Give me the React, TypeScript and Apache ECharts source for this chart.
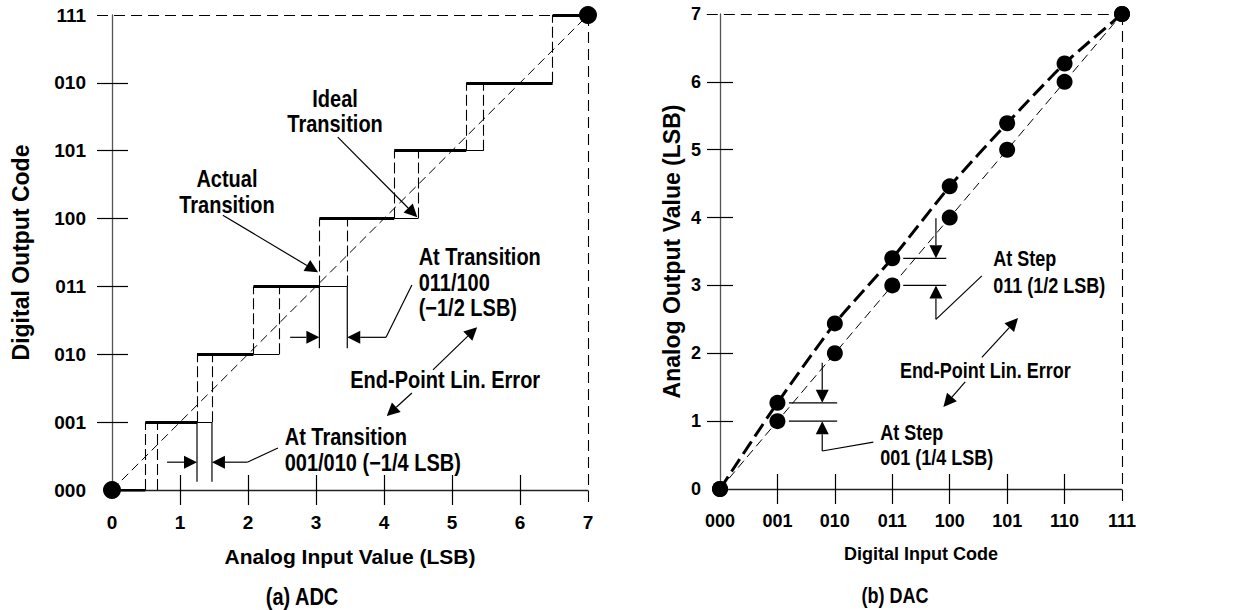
import React, { useEffect, useRef } from 'react';
import * as echarts from 'echarts';

// ---------------- data ----------------
const adcInputTicks = [0, 1, 2, 3, 4, 5, 6, 7];
const adcCodeLabels = ['000', '001', '010', '011', '100', '101', '010', '111'];
const adcActualTransitions = [0.49, 1.25, 2.08, 3.05, 4.15, 5.21, 6.48];
const adcIdealTransitions = [0.66, 1.47, 2.46, 3.46, 4.5, 5.46, 6.48];
const adcEndPoints = [[0, 0], [7, 7]];

const dacCodeLabels = ['000', '001', '010', '011', '100', '101', '110', '111'];
const dacIdealOutput = [0, 1, 2, 3, 4, 5, 6, 7];
const dacActualOutput = [0, 1.27, 2.44, 3.4, 4.46, 5.39, 6.27, 7];

// ---------------- annotations (data coordinates) ----------------
type Pt = [number, number];
const adcArrows: [Pt, Pt][] = [
  [[0.81, 0.41], [adcActualTransitions[1], 0.41]],
  [[1.99, 0.41], [adcIdealTransitions[1], 0.41]],
  [[2.62, 2.25], [adcActualTransitions[3], 2.25]],
  [[4.03, 2.25], [adcIdealTransitions[3], 2.25]],
  [[3.32, 5.2], [4.49, 4.02]],
  [[1.63, 4.05], [3.03, 3.21]],
  [[4.72, 1.77], [5.37, 2.4]],
  [[4.41, 1.43], [4.04, 1.09]],
];
const adcLeaders: [Pt, Pt][] = [
  [[1.99, 0.41], [2.44, 0.62]],
  [[4.03, 2.25], [4.41, 3.02]],
  [[adcActualTransitions[1], 1], [adcActualTransitions[1], 0.12]],
  [[adcIdealTransitions[1], 1], [adcIdealTransitions[1], 0.12]],
  [[adcActualTransitions[3], 3], [adcActualTransitions[3], 2.09]],
  [[adcIdealTransitions[3], 3], [adcIdealTransitions[3], 2.09]],
];
const adcTexts: { at: Pt; text: string; align: string }[] = [
  { at: [3.28, 5.77], text: 'Ideal', align: 'center' },
  { at: [3.28, 5.39], text: 'Transition', align: 'center' },
  { at: [1.69, 4.58], text: 'Actual', align: 'center' },
  { at: [1.69, 4.2], text: 'Transition', align: 'center' },
  { at: [4.51, 3.43], text: 'At Transition', align: 'left' },
  { at: [4.51, 3.05], text: '011/100', align: 'left' },
  { at: [4.51, 2.68], text: '(−1/2 LSB)', align: 'left' },
  { at: [4.9, 1.62], text: 'End-Point Lin. Error', align: 'center' },
  { at: [2.54, 0.78], text: 'At Transition', align: 'left' },
  { at: [2.54, 0.4], text: '001/010 (−1/4 LSB)', align: 'left' },
];

const dacArrows: [Pt, Pt][] = [
  [[3.76, 3.99], [3.76, dacActualOutput[3]]],
  [[3.76, 2.5], [3.76, dacIdealOutput[3]]],
  [[1.78, 1.86], [1.78, dacActualOutput[1]]],
  [[1.78, 0.56], [1.78, dacIdealOutput[1]]],
  [[4.56, 1.94], [5.19, 2.52]],
  [[4.27, 1.58], [3.89, 1.21]],
];
const dacLeaders: [Pt, Pt][] = [
  [[3.19, dacActualOutput[3]], [3.94, dacActualOutput[3]]],
  [[3.19, dacIdealOutput[3]], [3.94, dacIdealOutput[3]]],
  [[3.76, 2.5], [4.56, 3.14]],
  [[1.2, dacActualOutput[1]], [2.04, dacActualOutput[1]]],
  [[1.2, dacIdealOutput[1]], [2.04, dacIdealOutput[1]]],
  [[1.78, 0.56], [2.67, 0.69]],
];
const dacTexts: { at: Pt; text: string; align: string }[] = [
  { at: [4.76, 3.4], text: 'At Step', align: 'left' },
  { at: [4.76, 3.0], text: '011 (1/2 LSB)', align: 'left' },
  { at: [4.62, 1.75], text: 'End-Point Lin. Error', align: 'center' },
  { at: [2.79, 0.84], text: 'At Step', align: 'left' },
  { at: [2.79, 0.46], text: '001 (1/4 LSB)', align: 'left' },
];

const FONT = '"Liberation Sans", Arial, Helvetica, sans-serif';

function buildOption() {
  // ADC staircase segments
  const bold: any[] = [];
  for (let k = 0; k <= 7; k++) {
    const x1 = k === 0 ? 0 : adcActualTransitions[k - 1];
    const x2 = k === 7 ? 7 : adcActualTransitions[k];
    bold.push({ coords: [[x1, k], [x2, k]] });
  }
  const thin: any[] = [];
  for (let k = 2; k <= 7; k++) {
    thin.push({ coords: [[adcActualTransitions[k - 1], k - 1], [adcIdealTransitions[k - 1], k - 1]] });
  }
  const risers: any[] = [];
  for (let k = 1; k <= 7; k++) {
    risers.push({ coords: [[adcActualTransitions[k - 1], k - 1], [adcActualTransitions[k - 1], k]] });
    if (adcIdealTransitions[k - 1] !== adcActualTransitions[k - 1]) {
      risers.push({ coords: [[adcIdealTransitions[k - 1], k - 1], [adcIdealTransitions[k - 1], k]] });
    }
  }
  const frameL = [
    { coords: [[-0.22, 7], [7, 7]] },
    { coords: [[7, 7], [7, -0.22]] },
  ];
  const frameR = [
    { coords: [[-0.23, 7], [7, 7]] },
    { coords: [[7, 7], [7, -0.22]] },
  ];

  const tickVals = [1, 2, 3, 4, 5, 6];
  const labelStyle = (size: number, margin: number, fmt: any) => ({
    show: true, margin, fontSize: size, fontWeight: 'bold', color: '#000', fontFamily: FONT, formatter: fmt,
  });
  const nameStyle = (size: number) => ({ fontSize: size, fontWeight: 'bold', color: '#000', fontFamily: FONT });

  const mainX = (grid: number, name: string, size: number, nsize: number, fmt: any, gap: number, margin: number) => ({
    gridIndex: grid, type: 'value', min: 0, max: 7, interval: 1, position: 'bottom',
    axisLine: { show: true, onZero: false, lineStyle: { color: '#222', width: 1.3 } },
    axisTick: { show: true, length: 15, customValues: tickVals, lineStyle: { color: '#000', width: 1.2 } },
    axisLabel: labelStyle(size, margin, fmt),
    splitLine: { show: false },
    name, nameLocation: 'middle', nameGap: gap, nameTextStyle: nameStyle(nsize),
  });
  const innerX = (grid: number) => ({
    gridIndex: grid, type: 'value', min: 0, max: 7, interval: 1, position: 'bottom',
    axisLine: { show: false }, axisLabel: { show: false }, splitLine: { show: false },
    axisTick: { show: true, inside: true, length: 15, customValues: tickVals, lineStyle: { color: '#000', width: 1.2 } },
  });
  const mainY = (grid: number, name: string, size: number, nsize: number, fmt: any, gap: number, margin: number, tl: number) => ({
    gridIndex: grid, type: 'value', min: 0, max: 7, interval: 1, position: 'left',
    axisLine: { show: true, onZero: false, lineStyle: { color: '#555', width: 1.3 } },
    axisTick: { show: true, length: tl, customValues: tickVals, lineStyle: { color: '#000', width: 1.2 } },
    axisLabel: labelStyle(size, margin, fmt),
    splitLine: { show: false },
    name, nameLocation: 'middle', nameGap: gap, nameRotate: 90, nameTextStyle: nameStyle(nsize),
  });
  const innerY = (grid: number, tl: number) => ({
    gridIndex: grid, type: 'value', min: 0, max: 7, interval: 1, position: 'left',
    axisLine: { show: false }, axisLabel: { show: false }, splitLine: { show: false },
    axisTick: { show: true, inside: true, length: tl, customValues: tickVals, lineStyle: { color: '#000', width: 1.2 } },
  });

  const segSeries = (xi: number, data: any[], width: number, type: any, clip = true) => ({
    type: 'lines', coordinateSystem: 'cartesian2d', xAxisIndex: xi, yAxisIndex: xi,
    polyline: false, clip, silent: true, z: 4,
    lineStyle: { color: '#000', width, type, opacity: 1 },
    data,
  });

  return {
    animation: false,
    backgroundColor: '#fff',
    grid: [
      { left: 112, top: 15, width: 476, height: 475 },
      { left: 720, top: 14, width: 402, height: 475 },
    ],
    xAxis: [
      mainX(0, 'Analog Input Value (LSB)', 19, 21, (v: number) => String(adcInputTicks[v]), 56, 23),
      innerX(0),
      mainX(1, 'Digital Input Code', 18, 18, (v: number) => dacCodeLabels[v], 56, 23),
      innerX(1),
    ],
    yAxis: [
      mainY(0, 'Digital Output Code', 19, 23, (v: number) => adcCodeLabels[v], 80, 26, 15),
      innerY(0, 16),
      mainY(1, 'Analog Output Value (LSB)', 18, 23, (v: number) => String(v), 37, 19, 13),
      innerY(1, 13),
    ],
    series: [
      // ADC
      {
        type: 'line', xAxisIndex: 0, yAxisIndex: 0, data: adcEndPoints, symbol: 'none', z: 3,
        lineStyle: { color: '#000', width: 1, type: [9, 5] },
      },
      segSeries(0, risers, 1.1, [11, 4]),
      segSeries(0, thin, 1.1, 'solid'),
      segSeries(0, bold, 3.2, 'solid'),
      segSeries(0, frameL, 1.1, [11, 6], false),
      {
        type: 'scatter', xAxisIndex: 0, yAxisIndex: 0, data: adcEndPoints, symbolSize: 18, z: 6,
        itemStyle: { color: '#000', opacity: 1 },
      },
      // DAC
      segSeries(2, frameR, 1.1, [11, 6], false),
      {
        type: 'line', xAxisIndex: 2, yAxisIndex: 2, data: dacIdealOutput.map((v, i) => [i, v]),
        symbol: 'none', z: 3, lineStyle: { color: '#000', width: 1, type: [9, 5] },
      },
      {
        type: 'line', xAxisIndex: 2, yAxisIndex: 2, data: dacActualOutput.map((v, i) => [i, v]),
        symbol: 'none', smooth: 0.2, z: 3, lineStyle: { color: '#000', width: 3, type: [15, 6] },
      },
      {
        type: 'scatter', xAxisIndex: 2, yAxisIndex: 2, symbolSize: 16, z: 6, itemStyle: { color: '#000', opacity: 1 },
        data: [...dacIdealOutput.map((v, i) => [i, v]), ...dacActualOutput.map((v, i) => [i, v])],
      },
    ],
  };
}

function buildGraphics(chart: any) {
  const P = (side: number, p: Pt) => chart.convertToPixel({ xAxisIndex: side * 2, yAxisIndex: side * 2 }, p);
  const els: any[] = [];
  const seg = (a: number[], b: number[], w = 1.2) =>
    els.push({ type: 'line', silent: true, z: 20, shape: { x1: a[0], y1: a[1], x2: b[0], y2: b[1] }, style: { stroke: '#000', lineWidth: w } });
  const arrow = (side: number, tail: Pt, tip: Pt) => {
    const t = P(side, tail), p = P(side, tip);
    const dx = p[0] - t[0], dy = p[1] - t[1];
    const len = Math.hypot(dx, dy) || 1;
    const ux = dx / len, uy = dy / len;
    const L = 13, W = 13;
    const bx = p[0] - ux * L, by = p[1] - uy * L;
    const nx = -uy, ny = ux;
    seg(t, [bx, by]);
    els.push({
      type: 'polygon', silent: true, z: 21,
      shape: { points: [[p[0], p[1]], [bx + nx * W / 2, by + ny * W / 2], [bx - nx * W / 2, by - ny * W / 2]] },
      style: { fill: '#000' },
    });
  };
  const text = (x: number, y: number, str: string, size: number, align: string) => {
    els.push({
      type: 'text', silent: true, z: 22, x, y, scaleY: 1.18,
      style: { text: str, fill: '#000', fontSize: size, fontWeight: 'bold', fontFamily: FONT, align, verticalAlign: 'middle' },
    });
  };
  adcLeaders.forEach(([a, b]) => seg(P(0, a), P(0, b)));
  adcArrows.forEach(([a, b]) => arrow(0, a, b));
  adcTexts.forEach((t) => { const q = P(0, t.at); text(q[0], q[1], t.text, 20, t.align); });
  dacLeaders.forEach(([a, b]) => seg(P(1, a), P(1, b)));
  dacArrows.forEach(([a, b]) => arrow(1, a, b));
  dacTexts.forEach((t) => { const q = P(1, t.at); text(q[0], q[1], t.text, 18, t.align); });
  text(302, 597, '(a) ADC', 20, 'center');
  text(895, 595, '(b) DAC', 18, 'center');
  return els;
}

export default function App() {
  const ref = useRef<HTMLDivElement>(null);
  useEffect(() => {
    const chart = echarts.init(ref.current as HTMLDivElement, null, { renderer: 'svg' });
    chart.setOption(buildOption() as any);
    chart.setOption({ graphic: buildGraphics(chart) } as any);
    return () => chart.dispose();
  }, []);
  return (
    <div
      ref={ref}
      style={{ position: 'fixed', left: 0, top: 0, width: 1239, height: 610, background: '#fff' }}
    />
  );
}
